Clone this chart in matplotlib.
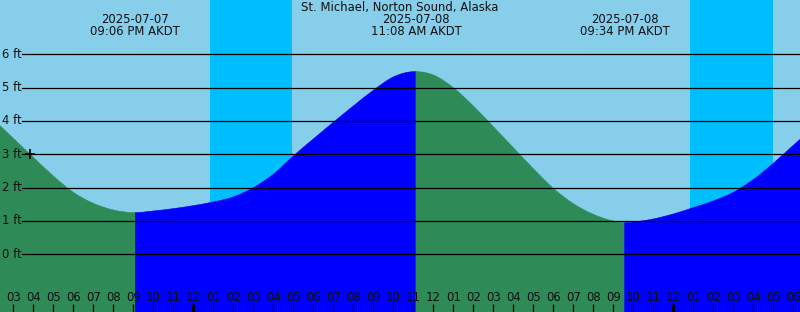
import matplotlib
matplotlib.use("Agg")
import matplotlib.pyplot as plt
import matplotlib.transforms as mtransforms
from matplotlib.path import Path
from matplotlib.patches import PathPatch
import numpy as np
import pandas as pd

# chart data
station = "St. Michael, Norton Sound, Alaska"
start = pd.Timestamp("2025-07-07 15:00")

hour_times = pd.date_range("2025-07-07 14:00", "2025-07-09 07:00", freq="h")
hour_heights = [4.05, 3.48, 2.91, 2.35, 1.86, 1.53, 1.33, 1.25, 1.30, 1.37,
                1.46, 1.57, 1.72, 2.00, 2.40, 2.95, 3.46, 3.96, 4.45, 4.92,
                5.32, 5.48, 5.38, 5.00, 4.45, 3.83, 3.20, 2.57, 1.98, 1.52,
                1.20, 1.00, 0.97, 1.06, 1.21, 1.40, 1.60, 1.86, 2.24, 2.73,
                3.27, 3.80]

event_times = pd.to_datetime(["2025-07-07 21:06", "2025-07-08 11:08", "2025-07-08 21:34"])
event_heights = [1.25, 5.48, 0.95]

night_start = pd.to_datetime(["2025-07-08 00:50", "2025-07-09 00:50"])
night_end = pd.to_datetime(["2025-07-08 04:56", "2025-07-09 04:58"])

feet_levels = [0, 1, 2, 3, 4, 5, 6]
mark_time = pd.Timestamp("2025-07-07 15:50")
mark_height = 3.0

SKY = "#87CEEB"
NIGHT = "#00BFFF"
FLOOD = "#0000FF"
EBB = "#2E8B57"
FS = 8.4


def hrs(ts):
    return np.asarray((pd.DatetimeIndex(ts) - start) / pd.Timedelta(hours=1), dtype=float)


def water_path(t, h, flat_ends, floor=-5.0):
    # smooth curve through the read heights (cubic hermite as bezier), closed down to floor
    n = len(t)
    m = np.zeros(n)
    for i in range(n):
        if (i == 0 and flat_ends[0]) or (i == n - 1 and flat_ends[1]):
            m[i] = 0.0
        elif i == 0:
            m[i] = (h[1] - h[0]) / (t[1] - t[0])
        elif i == n - 1:
            m[i] = (h[-1] - h[-2]) / (t[-1] - t[-2])
        else:
            d1, d2 = t[i] - t[i - 1], t[i + 1] - t[i]
            s1, s2 = (h[i] - h[i - 1]) / d1, (h[i + 1] - h[i]) / d2
            m[i] = (s1 * d2 + s2 * d1) / (d1 + d2)
    verts = [(t[0], floor), (t[0], h[0])]
    codes = [Path.MOVETO, Path.LINETO]
    for i in range(n - 1):
        d = (t[i + 1] - t[i]) / 3
        verts += [(t[i] + d, h[i] + m[i] * d), (t[i + 1] - d, h[i + 1] - m[i + 1] * d), (t[i + 1], h[i + 1])]
        codes += [Path.CURVE4] * 3
    verts += [(t[-1], floor), (t[0], floor)]
    codes += [Path.LINETO, Path.CLOSEPOLY]
    return Path(verts, codes)


fig = plt.figure(figsize=(8, 3.12), dpi=100)
ax = fig.add_axes([0, 0, 1, 1])
ax.set_facecolor(SKY)
ax.set_xlim((0 - 13.3) / 20, (800 - 13.3) / 20)
ax.set_ylim((254.3 - 312) / 33.33, 254.3 / 33.33)
ax.axis("off")
fig.patch.set_facecolor(SKY)

# night bands
for s, e in zip(hrs(night_start), hrs(night_end)):
    ax.axvspan(s, e, color=NIGHT, lw=0, zorder=1)

# water curve, coloured by flood / ebb
t_all = np.concatenate([hrs(hour_times), hrs(event_times)])
h_all = np.concatenate([hour_heights, event_heights])
order = np.argsort(t_all)
t_all, h_all = t_all[order], h_all[order]

ev = list(hrs(event_times))
bounds = [t_all[0]] + ev + [t_all[-1]]
for j, (a, b) in enumerate(zip(bounds[:-1], bounds[1:])):
    msk = (t_all >= a - 1e-9) & (t_all <= b + 1e-9)
    tt, hh = t_all[msk], h_all[msk]
    col = FLOOD if hh[-1] > hh[0] else EBB
    flat = (j > 0, j < len(bounds) - 2)
    ax.add_patch(PathPatch(water_path(tt, hh, flat), facecolor=col, edgecolor=col, lw=0.4, zorder=2))

# height grid lines and labels
yb = mtransforms.blended_transform_factory(ax.transAxes, ax.transData)
for ft in feet_levels:
    ax.axhline(ft, xmin=22 / 800, xmax=1, color="black", lw=0.9, zorder=3)
    ax.text(2 / 800, ft, f"{ft} ft", transform=yb, ha="left", va="center",
            fontsize=FS, color="#111111", zorder=4)

ax.plot(hrs([mark_time]), [mark_height], marker="+", markersize=7, mew=1.2, color="black", zorder=4)

# hour ticks along the bottom
xb = mtransforms.blended_transform_factory(ax.transData, ax.transAxes)
for k in range(0, 40):
    ts = start + pd.Timedelta(hours=k)
    lw = 2.2 if ts.hour == 0 else 0.9
    ax.plot([k, k], [0, 8 / 312], transform=xb, color="black", lw=lw, solid_capstyle="butt", zorder=4)
    ax.text(k, (312 - 297.5) / 312, ts.strftime("%I"), transform=xb, ha="center", va="center",
            fontsize=FS, color="#111111", zorder=4)

# title and high / low annotations
ax.text(0.5, 1 - 7.5 / 312, station, transform=ax.transAxes, ha="center", va="center",
        fontsize=FS, color="#111111", zorder=5)
for t, ts in zip(hrs(event_times), event_times):
    ax.text(t, 1 - 19.5 / 312, ts.strftime("%Y-%m-%d"), transform=xb, ha="center", va="center",
            fontsize=FS, color="#111111", zorder=5)
    ax.text(t, 1 - 31.5 / 312, ts.strftime("%I:%M %p") + " AKDT", transform=xb, ha="center", va="center",
            fontsize=FS, color="#111111", zorder=5)

fig.savefig("out.png", dpi=100, facecolor=SKY)
